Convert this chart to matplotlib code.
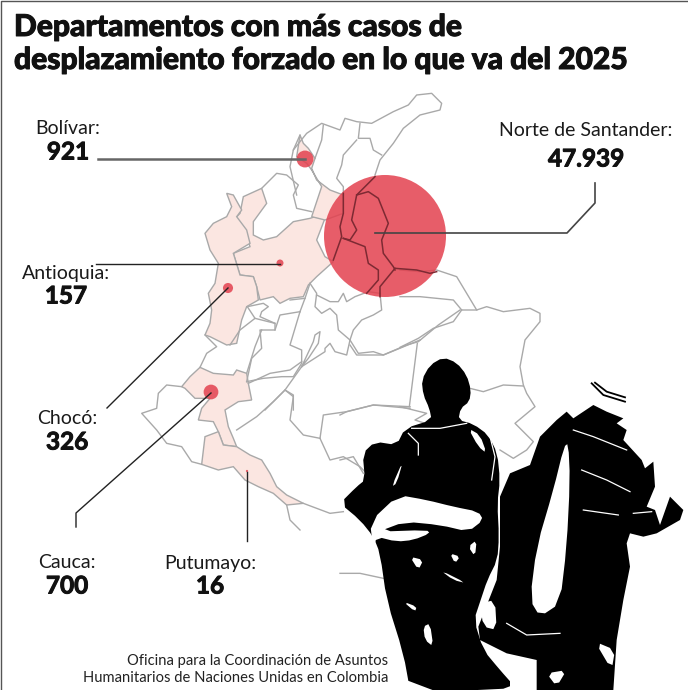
import numpy as np
import matplotlib
matplotlib.use("Agg")
import matplotlib.pyplot as plt
import matplotlib.patheffects as pe
from matplotlib.patches import Polygon, Circle

plt.rcParams['font.family'] = ['Lato', 'DejaVu Sans']

# datos
departamentos = ["Bolívar", "Norte de Santander", "Antioquia", "Chocó", "Cauca", "Putumayo"]
casos = [921, 47939, 157, 326, 700, 16]
casos_txt = ["921", "47.939", "157", "326", "700", "16"]
# donde cae cada burbuja en el mapa (px de la imagen)
centro_x = [305, 385, 280, 228, 211, 247]
centro_y = [159, 236, 263, 288, 392, 471]
# donde va cada etiqueta
label_x = [68, 586, 66, 67, 67, 210]
label_y = [129, 130, 274, 418, 563, 563]
valor_y = [152, 159, 296, 442, 586, 586]

titulo = ["Departamentos con más casos de", "desplazamiento forzado en lo que va del 2025"]
fuente = ["Oficina para la Coordinación de Asuntos", "Humanitarios de Naciones Unidas en Colombia"]

# los mapas estan calcados de recortes a 3x: (origen x, origen y)
NORTE = (130, 80)
SUR = (130, 330)
ESTE = (340, 340)
CENTRO = (230, 280)
SURESTE = (400, 260)

def px(puntos, marco):
    p = np.array(puntos, dtype=float)
    return p / 3 + np.array(marco)

def suave(p, veces=1):
    # chaikin, para que las siluetas no queden tan angulosas
    for _ in range(veces):
        q = np.roll(p, -1, axis=0)
        p = np.column_stack([0.75 * p + 0.25 * q, 0.25 * p + 0.75 * q]).reshape(-1, 2)
    return p

# departamentos en rosa
antioquia = [(340,350),(395,325),(410,370),(370,425),(370,465),(400,480),(440,470),(490,425),(540,415),(555,410),(585,415),(560,480),(585,530),(610,545),(560,590),(535,615),(520,650),(480,655),(450,670),(430,650),(390,660),(380,620),(370,590),(330,585),(310,520),(360,500),(345,450),(315,415),(330,400)]
choco = [(290,340),(310,345),(335,390),(320,410),(350,450),(360,490),(310,520),(330,585),(370,590),(380,620),(385,660),(350,680),(335,720),(320,790),(290,795),(240,770),(225,765),(240,730),(245,690),(235,640),(255,610),(265,550),(240,510),(225,460),(250,430),(290,410),(305,380)]
bolivar = [(510,165),(520,190),(535,205),(555,235),(545,265),(560,300),(600,330),(640,345),(640,400),(585,420),(545,410),(575,320),(545,270),(530,250),(500,230)]
cauca = [(155,170),(180,140),(210,112),(250,130),(310,135),(320,120),(350,130),(355,160),(365,210),(325,215),(285,240),(295,290),(310,325),(320,350),(280,345),(265,305),(250,275),(205,270),(215,235),(240,205),(195,205),(165,175)]
putumayo = [(225,320),(265,305),(280,345),(320,350),(360,375),(395,390),(420,430),(440,470),(470,495),(520,520),(470,525),(430,490),(385,470),(345,450),(310,410),(265,420),(215,403)]

# limites grises
lineas_norte = [
    [(490,210),(530,160),(575,130),(630,150),(645,115),(680,125),(725,130),(790,95),(835,75),(860,45),(905,40),(935,70),(930,90),(870,105),(820,145),(790,190),(750,240),(735,285)],
    [(580,135),(575,180),(555,235)],
    [(690,130),(685,175),(720,175),(730,210),(755,225)],
    [(680,180),(640,225),(635,255),(620,295),(640,320),(640,345)],
    [(395,325),(440,280),(470,285),(505,315),(490,345),(500,385),(545,395)],
    [(510,165),(490,210),(480,260),(500,345)],
]
lineas_centro = [
    [(52,80),(100,70),(115,80),(95,95),(90,110),(135,130),(135,150),(90,150),(95,205),(65,235),(50,305)],
    [(52,80),(75,115),(30,150),(0,195)],
    [(75,115),(135,130)],
    [(210,95),(180,195),(215,210),(215,250),(190,290),(155,290),(100,295),(50,305)],
    [(135,150),(150,105),(210,95)],
    [(240,10),(225,55),(210,95)],
    [(225,55),(180,60)],
    [(240,10),(260,40),(255,80),(275,100),(300,85),(320,105),(325,150),(360,180)],
    [(260,45),(300,65),(325,65),(340,40),(350,65),(375,50),(415,35),(450,40)],
    [(450,40),(455,90),(430,105),(395,120),(370,150),(360,180),(385,220),(430,215),(460,225),(530,195),(565,185),(625,135),(690,90)],
    [(360,180),(350,225),(315,215),(300,190),(285,205),(285,215),(215,260)],
    [(215,260),(250,185),(255,165),(270,155),(265,190),(235,235),(215,260)],
    [(215,260),(165,330),(190,345),(190,390)],
    [(165,330),(145,350),(105,390)],
]
lineas_sur = [
    [(155,170),(110,165),(85,190),(80,235),(35,250),(80,300),(110,340),(155,350),(185,395),(215,403)],
    [(210,112),(230,70),(260,50),(225,15)],
    [(350,130),(375,50),(395,0)],
    [(355,160),(420,130),(480,120),(515,95)],
    [(320,300),(380,260),(430,215),(465,180),(490,200),(480,270),(520,315),(570,325)],
    [(570,325),(580,255),(650,245),(730,225),(840,235)],
    [(570,325),(600,390),(640,380),(690,410),(720,440)],
    [(520,520),(600,550),(640,545)],
    [(470,525),(480,570),(510,600)],
]
lineas_sureste = [
    [(0,30),(60,35),(110,30),(170,50),(230,150),(260,140),(310,155),(390,145),(420,160),(420,185),(375,240),(360,320),(370,375),(380,400),(405,440),(345,490),(400,545),(380,570),(340,595),(300,570)],
    [(0,110),(60,110),(160,120),(185,150),(230,150)],
    [(185,150),(160,185),(100,205),(55,235),(0,262)],
    [(52,250),(28,440)],
    [(0,440),(80,460),(45,480),(90,495)],
    [(210,385),(250,395),(310,375),(370,378)],
]
lineas_este = [
    [(240,0),(130,45),(50,45),(30,15)],
    [(210,200),(100,195),(20,215),(0,225)],
    [(0,360),(40,350),(70,400)],
    [(0,700),(60,700),(130,715)],
]
# limites oscuros debajo de la burbuja grande
lineas_oscuras = [
    [(735,290),(695,330),(680,345),(665,420),(680,450),(660,480),(640,475)],
    [(640,340),(640,400),(630,440),(635,470),(610,540)],
    [(680,345),(715,335),(745,355),(775,430),(755,480),(760,520),(790,560),(795,570)],
    [(640,475),(705,500),(715,550),(745,570),(745,600),(710,640)],
    [(795,565),(750,620),(750,650)],
    [(795,565),(860,570),(900,580),(920,575)],
]

# siluetas
mujer = [(310,52),(350,68),(380,105),(393,150),(388,185),(362,205),(355,240),(400,252),(445,285),(472,340),(480,420),(472,490),(477,590),(472,660),(442,720),(422,780),(402,840),(430,930),(480,990),(520,1035),(480,1050),(210,1050),(190,940),(140,780),(120,640),(100,590),(60,540),(0,490),(50,440),(75,420),(68,340),(105,305),(170,315),(195,265),(275,240),(268,205),(250,165),(245,120),(270,75)]
hombre = [(680,215),(700,235),(760,195),(800,215),(850,235),(830,250),(860,270),(850,300),(905,360),(915,385),(940,365),(945,440),(920,500),(945,510),(960,555),(990,470),(1030,510),(1020,540),(950,580),(910,590),(870,580),(860,610),(870,680),(850,780),(830,900),(820,1050),(590,1050),(590,960),(500,940),(420,900),(415,860),(470,720),(480,620),(480,470),(510,400),(570,375),(600,290),(650,240)]
claros = [
    [(90,545),(175,465),(260,480),(340,500),(415,515),(430,540),(385,575),(300,555),(195,545),(115,575),(260,570),(270,580),(220,600),(170,605),(110,590),(100,630)],
    [(672,320),(685,310),(690,420),(680,620),(660,790),(600,830),(570,780),(590,620),(640,450)],
    [(385,265),(420,285),(440,340),(415,320)],
    [(155,440),(190,360),(170,430)],
    [(190,785),(230,800),(225,815)],
    [(250,860),(270,850),(280,920),(255,900)],
    [(300,690),(380,730),(340,720)],
    [(420,790),(465,780),(470,870),(430,860)],
    [(620,1000),(680,990),(650,1040)],
    [(765,905),(825,930),(815,990)],
    [(210,650),(250,660),(235,690)],
    [(330,640),(360,650),(345,670)],
    [(385,620),(410,600),(405,650)],
]
rayas = [
    [(700,270),(760,290),(860,330)],
    [(725,390),(800,420),(870,455)],
    [(730,510),(835,525)],
    [(880,520),(935,515)],
    [(215,265),(300,265),(380,250)],
    [(205,280),(235,310),(235,345)],
    [(500,850),(560,885),(660,880)],
    [(450,290),(465,350),(455,420)],
]
sombrero = [
    [(755,130),(790,165),(855,185)],
    [(765,128),(800,155),(855,172)],
]

fig = plt.figure(figsize=(6.88, 6.90), dpi=100)
ax = fig.add_axes([0, 0, 1, 1])
ax.set_xlim(0, 688)
ax.set_ylim(690, 0)
ax.axis("off")

rosa = "#fbe6e1"
gris = "#a9a9a9"
for forma, marco in [(antioquia, NORTE), (choco, NORTE), (bolivar, NORTE), (cauca, SUR), (putumayo, SUR)]:
    ax.add_patch(Polygon(px(forma, marco), closed=True, fc=rosa, ec=gris, lw=1, zorder=1))

for grupo, marco in [(lineas_norte, NORTE), (lineas_centro, CENTRO), (lineas_sur, SUR), (lineas_sureste, SURESTE), (lineas_este, ESTE)]:
    for l in grupo:
        p = px(l, marco)
        ax.plot(p[:, 0], p[:, 1], color=gris, lw=1, zorder=2)

# burbujas: area proporcional a los casos
r_max = 61
for v, cx, cy in zip(casos, centro_x, centro_y):
    r = r_max * np.sqrt(v / max(casos))
    ax.add_patch(Circle((cx, cy), r, fc="#e3414f", ec="none", alpha=0.85, zorder=3))

for l in lineas_oscuras:
    p = px(l, NORTE)
    ax.plot(p[:, 0], p[:, 1], color="#7d2a33", lw=1.1, zorder=4)

# lineas guia
ax.plot([98, 305], [159, 159], color="#666666", lw=1.8, zorder=5)
ax.plot([595, 595, 567, 375], [183, 203, 233, 233], color="#444444", lw=1.2, zorder=5)
ax.plot([96, 280], [264, 264], color="#222222", lw=1, zorder=5)
ax.plot([107, 228], [408, 288], color="#222222", lw=1, zorder=5)
ax.plot([76, 76, 211], [527, 513, 393], color="#222222", lw=1, zorder=5)
ax.plot([247, 247], [541, 472], color="#222222", lw=1, zorder=5)

# siluetas encima del mapa
ax.add_patch(Polygon(suave(px(mujer, ESTE)), closed=True, fc="black", ec="none", zorder=6))
ax.add_patch(Polygon(px(hombre, ESTE), closed=True, fc="black", ec="none", zorder=6))
for forma in claros:
    ax.add_patch(Polygon(suave(px(forma, ESTE)), closed=True, fc="white", ec="none", zorder=7))
for l in rayas:
    p = px(l, ESTE)
    ax.plot(p[:, 0], p[:, 1], color="white", lw=0.9, zorder=7)
for l in sombrero:
    p = px(l, ESTE)
    ax.plot(p[:, 0], p[:, 1], color="black", lw=1.3, zorder=7)

# textos
grueso = [pe.withStroke(linewidth=0.7, foreground="#111111")]
for i, t in enumerate(titulo):
    ax.text(14, 27 + i * 33, t, fontsize=21.6, fontweight="black", color="#111111", va="center", ha="left", path_effects=grueso)

for nombre, txt, x, y, yv in zip(departamentos, casos_txt, label_x, label_y, valor_y):
    ax.text(x, y, nombre + ":", fontsize=14, color="#1a1a1a", ha="center", va="center", zorder=8)
    ax.text(x, yv, txt, fontsize=17.5, fontweight="bold", color="#111111", ha="center", va="center", zorder=8, path_effects=grueso)

for i, t in enumerate(fuente):
    ax.text(388, 661 + i * 17, t, fontsize=10.6, color="#222222", ha="right", va="center", zorder=8)

# marco fino
ax.plot([0.5, 0.5, 687.5], [690, 0.7, 0.7], color="#555555", lw=1, zorder=9)

fig.savefig("out.png", dpi=100)
